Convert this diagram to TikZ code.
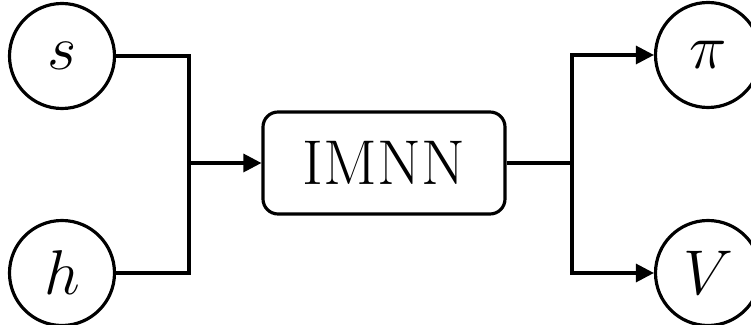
\RequirePackage{fix-cm}
\documentclass[tikz,border=0pt]{standalone}
\usepackage{amsmath,amssymb}
\usepackage{tikz}
\usetikzlibrary{arrows.meta, positioning}

\begin{document}
\begin{tikzpicture}[
    var/.style={circle, draw, line width=1.8pt, minimum size=2.1cm, inner sep=0pt, font=\fontsize{36}{40}\selectfont},
    net/.style={rectangle, draw, line width=1.8pt, rounded corners=0.3cm, minimum width=4.84cm, minimum height=2.04cm, font=\fontsize{36}{40}\selectfont},
    wire/.style={line width=1.8pt},
    arrow/.style={wire, -{Triangle[length=0.36cm, width=0.36cm]}}
]
    \useasboundingbox (0,0) rectangle (15.02,6.5);

    % Nodes
    \node[net] (imnn) at (7.68,3.24) {IMNN};
    \node[var] (s) at (1.24,5.38) {$s$};
    \node[var] (h) at (1.24,1.04) {$h$};
    \node[var] (pi) at (14.16,5.40) {$\pi$};
    \node[var] (v) at (14.16,1.04) {$V$};
    \coordinate (merge) at (3.78,3.24);
    \coordinate (split) at (11.44,3.24);

    % Paths
    \draw[wire] (s) -| (merge) |- (h);
    \draw[arrow] (merge) -- (imnn);
    \draw[wire] (imnn) -- (split);
    \draw[arrow] (split) |- (pi);
    \draw[arrow] (split) |- (v);
\end{tikzpicture}
\end{document}
